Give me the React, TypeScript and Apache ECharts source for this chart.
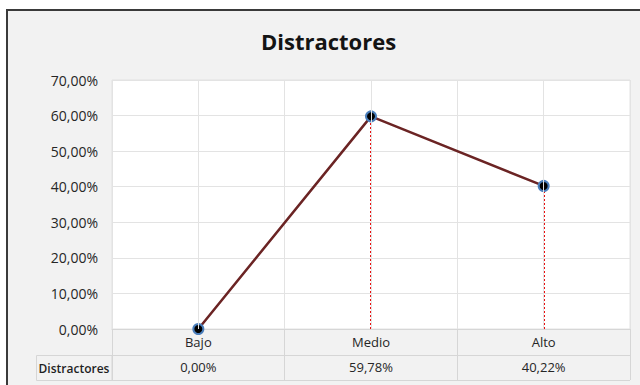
import React, { useEffect, useRef } from "react";
import * as echarts from "echarts";

const categories = ["Bajo", "Medio", "Alto"];
const values = [0, 59.78, 40.22];
const seriesName = "Distractores";
const chartTitle = "Distractores";

const fmt = (v: number) => v.toFixed(2).replace(".", ",") + "%";

export default function App() {
  const ref = useRef<HTMLDivElement>(null);
  useEffect(() => {
    if (!ref.current) return;
    const chart = echarts.init(ref.current, null, { renderer: "svg" });
    const font = "'Open Sans', 'Noto Sans', sans-serif";
    const gridColor = "#e3e3e3";
    const tableColor = "#d6d6d6";
    const txt = "#262626";
    chart.setOption({
      animation: false,
      backgroundColor: "transparent",
      textStyle: { fontFamily: font },
      title: {
        text: chartTitle,
        left: 256,
        top: 25,
        textStyle: { fontSize: 22, fontWeight: "bold", color: "#141414", fontFamily: font },
      },
      grid: {
        left: 112,
        right: 10,
        top: 80,
        bottom: 56,
        show: true,
        backgroundColor: "#ffffff",
        borderColor: gridColor,
        borderWidth: 1,
      },
      xAxis: [
        {
          type: "category",
          data: categories,
          boundaryGap: true,
          position: "bottom",
          axisLine: { show: true, lineStyle: { color: tableColor, width: 1 } },
          axisTick: { show: true, length: 51, lineStyle: { color: tableColor } },
          axisLabel: { margin: 6, fontSize: 13, color: txt, fontFamily: font },
          splitLine: { show: true, lineStyle: { color: gridColor, width: 1 } },
        },
        {
          type: "category",
          data: categories,
          boundaryGap: true,
          position: "bottom",
          offset: 26,
          axisLine: { show: true, lineStyle: { color: tableColor, width: 1 } },
          axisTick: { show: false },
          axisLabel: {
            margin: 5,
            fontSize: 13,
            color: txt,
            fontFamily: font,
            formatter: (_v: string, i: number) => fmt(values[i]),
          },
          splitLine: { show: false },
        },
      ],
      yAxis: {
        type: "value",
        min: 0,
        max: 70,
        interval: 10,
        axisLine: { show: false },
        axisTick: { show: false },
        axisLabel: { margin: 14, fontSize: 14, color: txt, fontFamily: font, formatter: (v: number) => fmt(v) },
        splitLine: { show: true, lineStyle: { color: gridColor, width: 1 } },
      },
      graphic: [
        {
          type: "line",
          shape: { x1: 112, y1: 380.5, x2: 630, y2: 380.5 },
          style: { stroke: tableColor, lineWidth: 1 },
        },
        {
          type: "rect",
          shape: { x: 36.5, y: 355.5, width: 75.5, height: 25 },
          style: { fill: "none", stroke: tableColor, lineWidth: 1 },
        },
        {
          type: "text",
          x: 74,
          y: 368,
          style: {
            text: seriesName,
            align: "center",
            verticalAlign: "middle",
            fontSize: 12,
            fontWeight: 600,
            fill: "#1f1f1f",
            fontFamily: font,
          },
        },
      ],
      series: [
        {
          type: "line",
          data: values,
          z: 1,
          silent: true,
          symbol: "none",
          lineStyle: { opacity: 0 },
          markLine: {
            silent: true,
            symbol: "none",
            label: { show: false },
            lineStyle: { color: gridColor, width: 1, type: "solid" },
            data: categories.map((c) => [{ coord: [c, 0] }, { coord: [c, 70] }]),
          },
        },
        {
          name: seriesName,
          type: "line",
          data: values,
          z: 3,
          symbol: "circle",
          symbolSize: 10,
          lineStyle: { color: "#6b2424", width: 2.5 },
          itemStyle: { color: "#000000", borderColor: "#4a7ebb", borderWidth: 2 },
          markLine: {
            silent: true,
            symbol: "none",
            label: { show: false },
            z: 2,
            lineStyle: { color: "#e81010", width: 2, type: "dotted" },
            data: categories
              .map((c, i) => [{ coord: [c, 0] }, { coord: [c, values[i]] }])
              .filter((_d, i) => values[i] > 0),
          },
        },
      ],
    });
    return () => chart.dispose();
  }, []);
  return (
    <div style={{ position: "fixed", left: 0, top: 0, width: 640, height: 385, background: "#ffffff" }}>
      <div
        style={{
          position: "absolute",
          left: 6,
          top: 9,
          width: 634,
          height: 376,
          background: "#f2f2f2",
          borderLeft: "2px solid #3a3a3a",
          borderTop: "2px solid #3a3a3a",
          boxSizing: "border-box",
        }}
      />
      <div ref={ref} style={{ position: "absolute", left: 0, top: 0, width: 640, height: 385 }} />
    </div>
  );
}
